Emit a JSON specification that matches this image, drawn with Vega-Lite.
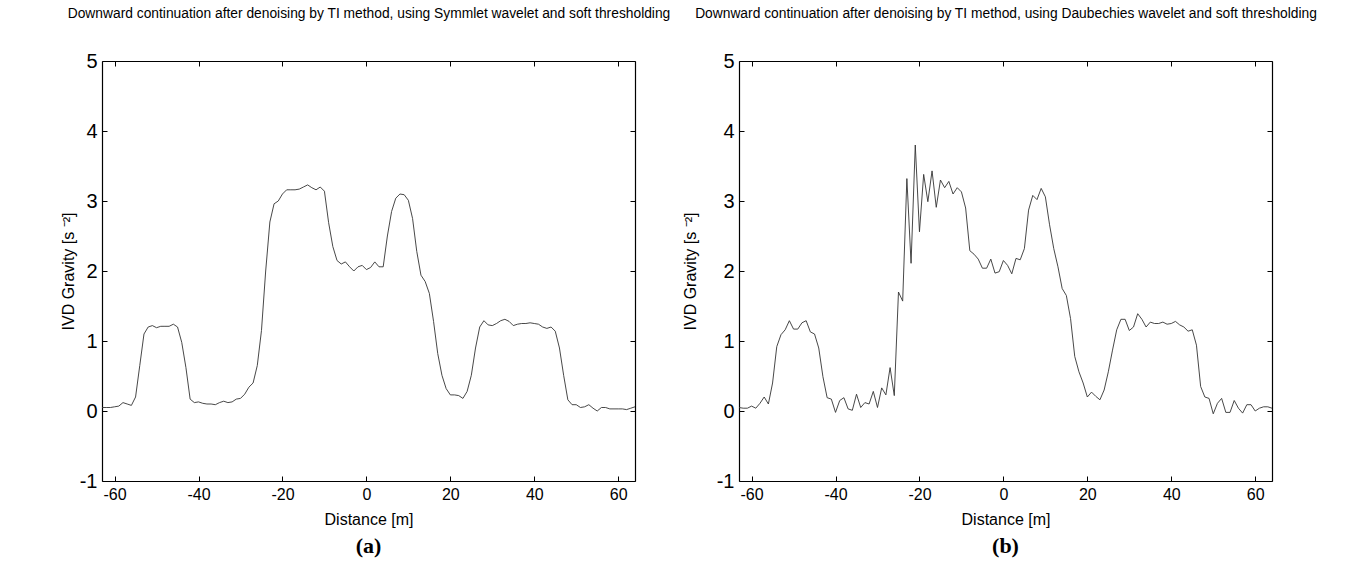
{
  "$schema": "https://vega.github.io/schema/vega-lite/v6.json",
  "padding": {"left": 60, "top": 6, "right": 10, "bottom": 10},
  "bounds": "flush",
  "spacing": 104,
  "datasets": {
    "sym": [
      {"x": -63, "y": 0.05}, {"x": -62, "y": 0.05}, {"x": -61, "y": 0.05}, {"x": -60, "y": 0.06}, {"x": -59, "y": 0.07}, {"x": -58, "y": 0.12}, {"x": -57, "y": 0.1}, {"x": -56, "y": 0.08}, {"x": -55, "y": 0.2}, {"x": -54, "y": 0.65}, {"x": -53, "y": 1.1}, {"x": -52, "y": 1.2}, {"x": -51, "y": 1.22}, {"x": -50, "y": 1.19}, {"x": -49, "y": 1.21}, {"x": -48, "y": 1.21}, {"x": -47, "y": 1.21}, {"x": -46, "y": 1.24}, {"x": -45, "y": 1.2}, {"x": -44, "y": 0.98}, {"x": -43, "y": 0.62}, {"x": -42, "y": 0.17}, {"x": -41, "y": 0.12}, {"x": -40, "y": 0.13}, {"x": -39, "y": 0.11}, {"x": -38, "y": 0.1}, {"x": -37, "y": 0.1}, {"x": -36, "y": 0.09}, {"x": -35, "y": 0.12}, {"x": -34, "y": 0.14}, {"x": -33, "y": 0.12}, {"x": -32, "y": 0.13}, {"x": -31, "y": 0.17}, {"x": -30, "y": 0.18}, {"x": -29, "y": 0.24}, {"x": -28, "y": 0.34}, {"x": -27, "y": 0.4}, {"x": -26, "y": 0.65}, {"x": -25, "y": 1.15}, {"x": -24, "y": 2.0}, {"x": -23, "y": 2.7}, {"x": -22, "y": 2.96}, {"x": -21, "y": 3.0}, {"x": -20, "y": 3.1}, {"x": -19, "y": 3.16}, {"x": -18, "y": 3.16}, {"x": -17, "y": 3.16}, {"x": -16, "y": 3.17}, {"x": -15, "y": 3.2}, {"x": -14, "y": 3.23}, {"x": -13, "y": 3.19}, {"x": -12, "y": 3.16}, {"x": -11, "y": 3.2}, {"x": -10, "y": 3.14}, {"x": -9, "y": 2.69}, {"x": -8, "y": 2.35}, {"x": -7, "y": 2.15}, {"x": -6, "y": 2.1}, {"x": -5, "y": 2.13}, {"x": -4, "y": 2.06}, {"x": -3, "y": 2.0}, {"x": -2, "y": 2.06}, {"x": -1, "y": 2.08}, {"x": 0, "y": 2.02}, {"x": 1, "y": 2.05}, {"x": 2, "y": 2.13}, {"x": 3, "y": 2.06}, {"x": 4, "y": 2.06}, {"x": 5, "y": 2.5}, {"x": 6, "y": 2.85}, {"x": 7, "y": 3.04}, {"x": 8, "y": 3.1}, {"x": 9, "y": 3.09}, {"x": 10, "y": 3.01}, {"x": 11, "y": 2.75}, {"x": 12, "y": 2.28}, {"x": 13, "y": 1.94}, {"x": 14, "y": 1.85}, {"x": 15, "y": 1.68}, {"x": 16, "y": 1.28}, {"x": 17, "y": 0.82}, {"x": 18, "y": 0.51}, {"x": 19, "y": 0.32}, {"x": 20, "y": 0.23}, {"x": 21, "y": 0.23}, {"x": 22, "y": 0.22}, {"x": 23, "y": 0.18}, {"x": 24, "y": 0.28}, {"x": 25, "y": 0.51}, {"x": 26, "y": 0.9}, {"x": 27, "y": 1.2}, {"x": 28, "y": 1.29}, {"x": 29, "y": 1.23}, {"x": 30, "y": 1.22}, {"x": 31, "y": 1.25}, {"x": 32, "y": 1.29}, {"x": 33, "y": 1.31}, {"x": 34, "y": 1.28}, {"x": 35, "y": 1.22}, {"x": 36, "y": 1.24}, {"x": 37, "y": 1.25}, {"x": 38, "y": 1.25}, {"x": 39, "y": 1.26}, {"x": 40, "y": 1.25}, {"x": 41, "y": 1.24}, {"x": 42, "y": 1.2}, {"x": 43, "y": 1.18}, {"x": 44, "y": 1.2}, {"x": 45, "y": 1.14}, {"x": 46, "y": 0.9}, {"x": 47, "y": 0.51}, {"x": 48, "y": 0.16}, {"x": 49, "y": 0.09}, {"x": 50, "y": 0.09}, {"x": 51, "y": 0.05}, {"x": 52, "y": 0.06}, {"x": 53, "y": 0.09}, {"x": 54, "y": 0.04}, {"x": 55, "y": 0.0}, {"x": 56, "y": 0.05}, {"x": 57, "y": 0.05}, {"x": 58, "y": 0.03}, {"x": 59, "y": 0.03}, {"x": 60, "y": 0.03}, {"x": 61, "y": 0.03}, {"x": 62, "y": 0.02}, {"x": 63, "y": 0.04}, {"x": 64, "y": 0.06}
    ],
    "daub": [
      {"x": -63, "y": 0.05}, {"x": -62, "y": 0.04}, {"x": -61, "y": 0.04}, {"x": -60, "y": 0.07}, {"x": -59, "y": 0.04}, {"x": -58, "y": 0.11}, {"x": -57, "y": 0.2}, {"x": -56, "y": 0.1}, {"x": -55, "y": 0.4}, {"x": -54, "y": 0.92}, {"x": -53, "y": 1.09}, {"x": -52, "y": 1.16}, {"x": -51, "y": 1.29}, {"x": -50, "y": 1.17}, {"x": -49, "y": 1.17}, {"x": -48, "y": 1.26}, {"x": -47, "y": 1.29}, {"x": -46, "y": 1.13}, {"x": -45, "y": 1.1}, {"x": -44, "y": 0.9}, {"x": -43, "y": 0.49}, {"x": -42, "y": 0.19}, {"x": -41, "y": 0.17}, {"x": -40, "y": -0.02}, {"x": -39, "y": 0.15}, {"x": -38, "y": 0.19}, {"x": -37, "y": 0.03}, {"x": -36, "y": 0.01}, {"x": -35, "y": 0.24}, {"x": -34, "y": 0.05}, {"x": -33, "y": 0.12}, {"x": -32, "y": 0.1}, {"x": -31, "y": 0.28}, {"x": -30, "y": 0.05}, {"x": -29, "y": 0.33}, {"x": -28, "y": 0.23}, {"x": -27, "y": 0.62}, {"x": -26, "y": 0.22}, {"x": -25, "y": 1.7}, {"x": -24, "y": 1.57}, {"x": -23, "y": 3.32}, {"x": -22, "y": 2.11}, {"x": -21, "y": 3.8}, {"x": -20, "y": 2.56}, {"x": -19, "y": 3.38}, {"x": -18, "y": 2.99}, {"x": -17, "y": 3.43}, {"x": -16, "y": 2.91}, {"x": -15, "y": 3.3}, {"x": -14, "y": 3.19}, {"x": -13, "y": 3.28}, {"x": -12, "y": 3.1}, {"x": -11, "y": 3.19}, {"x": -10, "y": 3.13}, {"x": -9, "y": 2.9}, {"x": -8, "y": 2.29}, {"x": -7, "y": 2.24}, {"x": -6, "y": 2.17}, {"x": -5, "y": 2.04}, {"x": -4, "y": 2.04}, {"x": -3, "y": 2.17}, {"x": -2, "y": 1.97}, {"x": -1, "y": 1.99}, {"x": 0, "y": 2.15}, {"x": 1, "y": 2.08}, {"x": 2, "y": 1.96}, {"x": 3, "y": 2.18}, {"x": 4, "y": 2.16}, {"x": 5, "y": 2.32}, {"x": 6, "y": 2.87}, {"x": 7, "y": 3.08}, {"x": 8, "y": 3.02}, {"x": 9, "y": 3.18}, {"x": 10, "y": 3.06}, {"x": 11, "y": 2.66}, {"x": 12, "y": 2.32}, {"x": 13, "y": 2.06}, {"x": 14, "y": 1.75}, {"x": 15, "y": 1.65}, {"x": 16, "y": 1.32}, {"x": 17, "y": 0.78}, {"x": 18, "y": 0.56}, {"x": 19, "y": 0.4}, {"x": 20, "y": 0.2}, {"x": 21, "y": 0.27}, {"x": 22, "y": 0.21}, {"x": 23, "y": 0.16}, {"x": 24, "y": 0.3}, {"x": 25, "y": 0.56}, {"x": 26, "y": 0.87}, {"x": 27, "y": 1.16}, {"x": 28, "y": 1.31}, {"x": 29, "y": 1.31}, {"x": 30, "y": 1.15}, {"x": 31, "y": 1.2}, {"x": 32, "y": 1.39}, {"x": 33, "y": 1.31}, {"x": 34, "y": 1.2}, {"x": 35, "y": 1.27}, {"x": 36, "y": 1.25}, {"x": 37, "y": 1.25}, {"x": 38, "y": 1.27}, {"x": 39, "y": 1.24}, {"x": 40, "y": 1.25}, {"x": 41, "y": 1.28}, {"x": 42, "y": 1.23}, {"x": 43, "y": 1.2}, {"x": 44, "y": 1.14}, {"x": 45, "y": 1.16}, {"x": 46, "y": 0.94}, {"x": 47, "y": 0.35}, {"x": 48, "y": 0.2}, {"x": 49, "y": 0.18}, {"x": 50, "y": -0.04}, {"x": 51, "y": 0.11}, {"x": 52, "y": 0.18}, {"x": 53, "y": -0.02}, {"x": 54, "y": -0.02}, {"x": 55, "y": 0.15}, {"x": 56, "y": 0.04}, {"x": 57, "y": -0.03}, {"x": 58, "y": 0.09}, {"x": 59, "y": 0.09}, {"x": 60, "y": 0.0}, {"x": 61, "y": 0.04}, {"x": 62, "y": 0.06}, {"x": 63, "y": 0.06}, {"x": 64, "y": 0.04}
    ]
  },
  "hconcat": [
    {
      "width": 533, "height": 420,
      "data": {"name": "sym"},
      "title": {"text": "(a)", "orient": "bottom", "anchor": "middle", "font": "Liberation Serif", "fontWeight": "bold", "fontSize": 22, "offset": 9, "color": "#000"},
      "layer": [
        {
          "mark": {"type": "line", "color": "#333", "strokeWidth": 0.9, "clip": true},
          "encoding": {
            "x": {"field": "x", "type": "quantitative", "scale": {"domain": [-63, 64], "nice": false, "zero": false},
                  "axis": {"orient": "bottom", "values": [-60, -40, -20, 0, 20, 40, 60], "title": "Distance [m]"}},
            "y": {"field": "y", "type": "quantitative", "scale": {"domain": [-1, 5], "nice": false, "zero": false},
                  "axis": {"orient": "left", "values": [-1, 0, 1, 2, 3, 4, 5], "title": "IVD Gravity [s ⁻²]", "titlePadding": 3}}
          }
        },
        {
          "mark": {"type": "line", "opacity": 0},
          "encoding": {
            "x": {"field": "x", "type": "quantitative", "scale": {"domain": [-63, 64], "nice": false, "zero": false},
                  "axis": {"orient": "top", "values": [-60, -40, -20, 0, 20, 40, 60], "labels": false, "title": "Downward continuation after denoising by TI method, using Symmlet wavelet and soft thresholding", "titleFontSize": 13.8, "titlePadding": 40}},
            "y": {"field": "y", "type": "quantitative", "scale": {"domain": [-1, 5], "nice": false, "zero": false},
                  "axis": {"orient": "right", "values": [-1, 0, 1, 2, 3, 4, 5], "labels": false, "title": null}}
          }
        }
      ],
      "resolve": {"axis": {"x": "independent", "y": "independent"}}
    },
    {
      "width": 533, "height": 420,
      "data": {"name": "daub"},
      "title": {"text": "(b)", "orient": "bottom", "anchor": "middle", "font": "Liberation Serif", "fontWeight": "bold", "fontSize": 22, "offset": 9, "color": "#000"},
      "layer": [
        {
          "mark": {"type": "line", "color": "#333", "strokeWidth": 0.9, "clip": true},
          "encoding": {
            "x": {"field": "x", "type": "quantitative", "scale": {"domain": [-63, 64], "nice": false, "zero": false},
                  "axis": {"orient": "bottom", "values": [-60, -40, -20, 0, 20, 40, 60], "title": "Distance [m]"}},
            "y": {"field": "y", "type": "quantitative", "scale": {"domain": [-1, 5], "nice": false, "zero": false},
                  "axis": {"orient": "left", "values": [-1, 0, 1, 2, 3, 4, 5], "title": "IVD Gravity [s ⁻²]", "titlePadding": 18}}
          }
        },
        {
          "mark": {"type": "line", "opacity": 0},
          "encoding": {
            "x": {"field": "x", "type": "quantitative", "scale": {"domain": [-63, 64], "nice": false, "zero": false},
                  "axis": {"orient": "top", "values": [-60, -40, -20, 0, 20, 40, 60], "labels": false, "title": "Downward continuation after denoising by TI method, using Daubechies wavelet and soft thresholding", "titleFontSize": 13.8, "titlePadding": 40}},
            "y": {"field": "y", "type": "quantitative", "scale": {"domain": [-1, 5], "nice": false, "zero": false},
                  "axis": {"orient": "right", "values": [-1, 0, 1, 2, 3, 4, 5], "labels": false, "title": null}}
          }
        }
      ],
      "resolve": {"axis": {"x": "independent", "y": "independent"}}
    }
  ],
  "config": {
    "font": "Liberation Sans",
    "view": {"stroke": null},
    "axis": {"domainColor": "#000", "domainWidth": 1.2, "tickColor": "#000", "tickSize": -5, "tickWidth": 1, "grid": false, "labelColor": "#000", "titleColor": "#000", "labelFont": "Liberation Sans", "titleFont": "Liberation Sans", "titleFontWeight": "normal", "labelFlush": false, "labelOverlap": false,
      "labelExpr": "datum.value < 0 ? '-' + (-datum.value) : '' + datum.value"},
    "axisX": {"labelFontSize": 16, "labelPadding": 10, "titleFontSize": 16, "titlePadding": 9},
    "axisY": {"labelFontSize": 20, "labelPadding": 10, "titleFontSize": 16}
  }
}
